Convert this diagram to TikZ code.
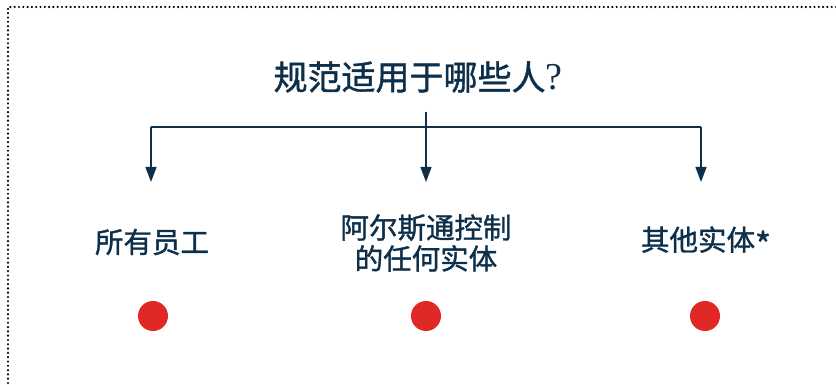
\documentclass[tikz,border=0pt]{standalone}
\usepackage{fontspec}
\setmainfont[FakeBold=1.2]{Noto Sans CJK SC}
\newfontfamily\latinserif{Liberation Serif}
\usetikzlibrary{arrows.meta}
\definecolor{navy}{HTML}{0D2F4A}
\definecolor{dotred}{HTML}{E02826}
\tikzset{
  lbl/.style={text=navy, font=\fontsize{28.5}{31}\selectfont, align=center, inner sep=0pt},
  conn/.style={draw=navy, line width=1.3pt},
  arr/.style={conn, -{Triangle[length=15pt,width=11pt]}},
  reddot/.style={circle, fill=dotred, minimum size=30pt, inner sep=0pt},
  border/.style={black, line width=2.4pt, line cap=round, dash pattern=on 0pt off 4.3pt}
}
\begin{document}
\begin{tikzpicture}[x=1pt,y=1pt]
\useasboundingbox (0,0) rectangle (836,385);
\draw[border] (8,2) -- (8,378) -- (836,378);
\node[lbl, font=\fontsize{34}{40}\selectfont] (title) at (418,308) {规范适用于哪些人{\latinserif\fontsize{38}{40}\selectfont ?}};
\coordinate (top) at (426,273);
\coordinate (hl) at (151,258);
\coordinate (hr) at (701,258);
\node[lbl] (a) at (152,143) {所有员工};
\node[lbl] (b) at (426,142) {阿尔斯通控制\\的任何实体};
\node[lbl] (c) at (706,143) {其他实体\raisebox{-7pt}{\fontsize{34}{31}\selectfont*}};
\coordinate (ta) at (151,203);
\coordinate (tb) at (426,203);
\coordinate (tc) at (701,203);
\draw[conn] (hl) -- (hr);
\draw[arr] (hl) -- (ta);
\draw[arr] (top) -- (tb);
\draw[arr] (hr) -- (tc);
\node[reddot] (da) at (153,69) {};
\node[reddot] (db) at (426,69) {};
\node[reddot] (dc) at (705,69) {};
\end{tikzpicture}
\end{document}
